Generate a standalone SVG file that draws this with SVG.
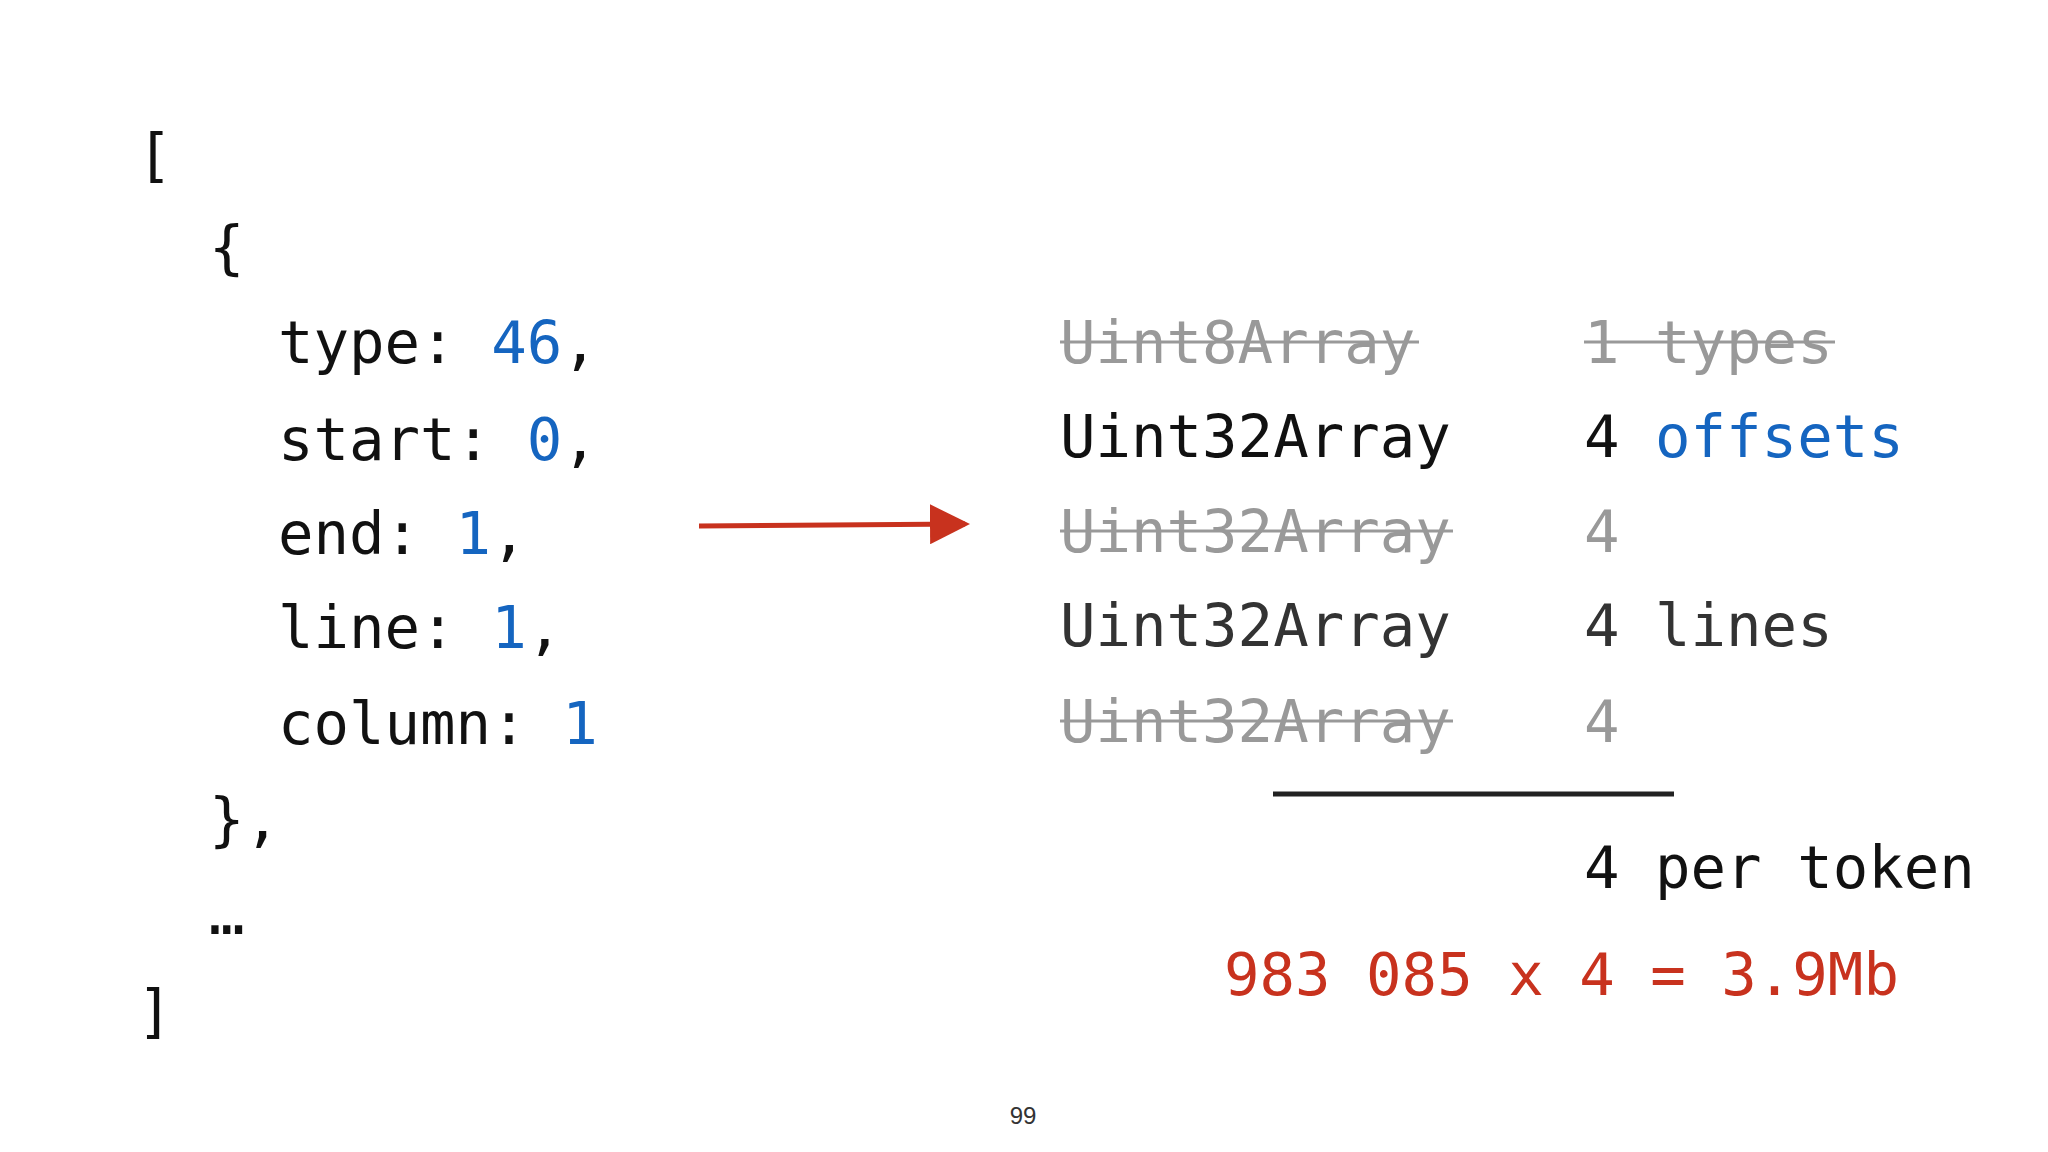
<svg xmlns="http://www.w3.org/2000/svg" width="2048" height="1152" viewBox="0 0 2048 1152">
<defs>
<style>
text{font-family:"DejaVu Sans Mono","Liberation Mono",monospace;font-size:59px;fill:#111}
.b{fill:#1565c0}.g{fill:#999}.r{fill:#c8321e}
.s{stroke:#999;stroke-width:3}
</style>
<marker id="ah" markerWidth="8" markerHeight="8" refX="7" refY="4" orient="auto" markerUnits="strokeWidth"><path d="M0,0 L8,4 L0,8 z" fill="#c8321e"/></marker>
</defs>
<rect width="2048" height="1152" fill="#fff"/>
<g id="code">
<text x="137" y="176">[</text>
<text x="209" y="268">{</text>
<text x="278" y="363">type: <tspan class="b">46</tspan>,</text>
<text x="278" y="460">start: <tspan class="b">0</tspan>,</text>
<text x="278" y="554">end: <tspan class="b">1</tspan>,</text>
<text x="278" y="648">line: <tspan class="b">1</tspan>,</text>
<text x="278" y="744">column: <tspan class="b">1</tspan></text>
<text x="209" y="840">},</text>
<text x="209" y="934">…</text>
<text x="137" y="1032">]</text>
</g>
<g id="connectors">
<line x1="699" y1="526" x2="965" y2="524" stroke="#c8321e" stroke-width="5" marker-end="url(#ah)"/>
</g>
<g id="table">
<text x="1060" y="363" class="g">Uint8Array</text><line class="s" x1="1060" y1="342" x2="1419" y2="342"/>
<text x="1584" y="363" class="g">1 types</text><line class="s" x1="1584" y1="342" x2="1835" y2="342"/>
<text x="1060" y="457">Uint32Array</text>
<text x="1584" y="457">4 <tspan class="b">offsets</tspan></text>
<text x="1060" y="552" class="g">Uint32Array</text><line class="s" x1="1060" y1="531" x2="1453" y2="531"/>
<text x="1584" y="552" class="g">4</text>
<text x="1060" y="646" fill="#333" style="fill:#333">Uint32Array</text>
<text x="1584" y="646" style="fill:#333">4 lines</text>
<text x="1060" y="742" class="g">Uint32Array</text><line class="s" x1="1060" y1="721" x2="1453" y2="721"/>
<text x="1584" y="742" class="g">4</text>
<line x1="1273" y1="794" x2="1674" y2="794" stroke="#222" stroke-width="5"/>
<text x="1584" y="888">4 per token</text>
<text x="1224" y="995" class="r">983 085 x 4 = 3.9Mb</text>
</g>
<text x="1023" y="1124" text-anchor="middle" style="font-family:'Liberation Sans',sans-serif;font-size:24px;fill:#333">99</text>
</svg>
